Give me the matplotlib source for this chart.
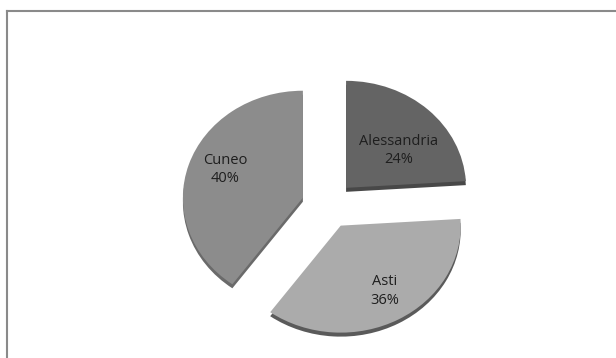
import numpy as np
import matplotlib.pyplot as plt
from matplotlib.lines import Line2D

# Dati
province = ['Alessandria', 'Asti', 'Cuneo']
percentuali = [24, 36, 40]
colori = ['#646464', '#ababab', '#8c8c8c']
colori_bordo = ['#484848', '#5a5a5a', '#6a6a6a']

# Geometria (pixel)
W, H = 616, 358
cx, cy = 328, 205          # centro della torta dall'alto
rx, ry = 120, 107          # raggi dell'ellisse (effetto 3D)
spessore = 4               # spessore del bordo 3D

# posizione delle etichette per spicchio (distanza, spostamento angolare in gradi)
dist_etichette = [0.56, 0.71, 0.70]
rot_etichette = [8, -2, 4]

fig = plt.figure(figsize=(W / 100, H / 100), dpi=100)
fig.patch.set_facecolor('white')

ax = fig.add_axes([0, 0, 1, 1])

esplodi = [0.22, 0.22, 0.22]

# bordo 3D (copia scura spostata in basso)
ax.pie(percentuali, explode=esplodi, colors=colori_bordo, startangle=90,
       counterclock=False, center=(0, -spessore / ry),
       wedgeprops=dict(linewidth=0))

wedges, _ = ax.pie(percentuali, explode=esplodi, colors=colori, startangle=90,
                   counterclock=False, wedgeprops=dict(linewidth=0))

for w, nome, v, d, rot in zip(wedges, province, percentuali, dist_etichette, rot_etichette):
    ang = np.deg2rad((w.theta1 + w.theta2) / 2 - rot)
    x0, y0 = w.center
    ax.text(x0 + d * np.cos(ang), y0 + d * np.sin(ang), f'{nome}\n{v}%',
            ha='center', va='center', fontsize=10.5, family='Open Sans',
            color='#1e1e1e', linespacing=1.3)

ax.set_aspect('auto')
ax.set_xlim(-cx / rx, (W - cx) / rx)
ax.set_ylim(-(H - cy) / ry, cy / ry)
ax.axis('off')

# cornice del grafico
fig.add_artist(Line2D([6.5 / W, 6.5 / W], [0, 1 - 10.5 / H], color='#8a8a8a', lw=1.5,
                      transform=fig.transFigure))
fig.add_artist(Line2D([6.5 / W, 1], [1 - 10.5 / H, 1 - 10.5 / H], color='#8a8a8a', lw=1.5,
                      transform=fig.transFigure))

fig.savefig('out.png', dpi=100, facecolor='white')
